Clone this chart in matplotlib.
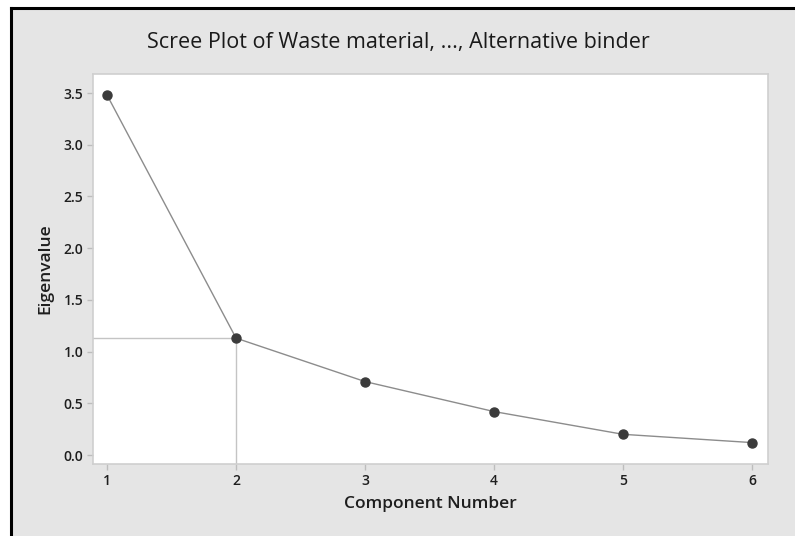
import matplotlib
matplotlib.use("Agg")
import matplotlib.pyplot as plt
from matplotlib.patches import Rectangle
from matplotlib.lines import Line2D

components = [1, 2, 3, 4, 5, 6]
eigenvalues = [3.48, 1.13, 0.71, 0.42, 0.20, 0.12]
yticks = [0.0, 0.5, 1.0, 1.5, 2.0, 2.5, 3.0, 3.5]
ytick_labels = ["0.0", "0.5", "1.0", "1.5", "2.0", "2.5", "3.0", "3.5"]
title = "Scree Plot of Waste material, ..., Alternative binder"

plt.rcParams['font.family'] = ['Open Sans', 'DejaVu Sans']

W, H = 795, 536
fig = plt.figure(figsize=(W / 100, H / 100), dpi=100, facecolor="white")

# gray panel with black border at top/left
fig.patches.append(Rectangle((11 / W, 0), 1 - 11 / W, 1 - 8 / H, transform=fig.transFigure,
                             facecolor="#e5e5e5", edgecolor="none", zorder=-2))
fig.lines.append(Line2D([11 / W, 1], [1 - 8 / H, 1 - 8 / H], transform=fig.transFigure,
                        color="black", lw=2.2, zorder=-1))
fig.lines.append(Line2D([11 / W, 11 / W], [0, 1 - 8 / H], transform=fig.transFigure,
                        color="black", lw=2.2, zorder=-1))

left, right, top, bottom = 93 / W, 768 / W, 1 - 74 / H, 1 - 464 / H
ax = fig.add_axes([left, bottom, right - left, top - bottom])
ax.set_zorder(1)
ax.set_facecolor("white")

ax.set_xlim(0.891, 6.124)
ax.set_ylim(-0.087, 3.684)

# reference lines
ax.plot([ax.get_xlim()[0], components[1]], [eigenvalues[1], eigenvalues[1]],
        color="#c4c4c4", lw=1.0, zorder=1)
ax.plot([components[1], components[1]], [ax.get_ylim()[0], eigenvalues[1]],
        color="#c4c4c4", lw=1.0, zorder=1)

ax.plot(components, eigenvalues, color="#8c8c8c", lw=1.0, zorder=2)
ax.plot(components, eigenvalues, linestyle="none", marker="o", markersize=6.5,
        color="#3b3b3b", zorder=3)

ax.set_xticks(components)
ax.set_xticklabels([str(c) for c in components])
ax.set_yticks(yticks)
ax.set_yticklabels(ytick_labels)

for s in ax.spines.values():
    s.set_color("#cfcfcf")
    s.set_linewidth(1.2)
ax.tick_params(axis="both", direction="out", length=4, width=1, color="#bdbdbd",
               labelsize=10, labelcolor="#1e1e1e", pad=3)
for lab in ax.get_xticklabels() + ax.get_yticklabels():
    lab.set_fontweight("semibold")

ax.set_xlabel("Component Number", fontsize=12.5, color="#1e1e1e", labelpad=6,
              fontweight="semibold")
ax.set_ylabel("Eigenvalue", fontsize=12.5, color="#1e1e1e", labelpad=7,
              fontweight="semibold")

fig.text(398 / W, 1 - 42 / H, title, ha="center", va="center",
         fontsize=15.5, color="#1a1a1a", fontweight="medium")

fig.savefig("out.png", dpi=100, facecolor=fig.get_facecolor())
